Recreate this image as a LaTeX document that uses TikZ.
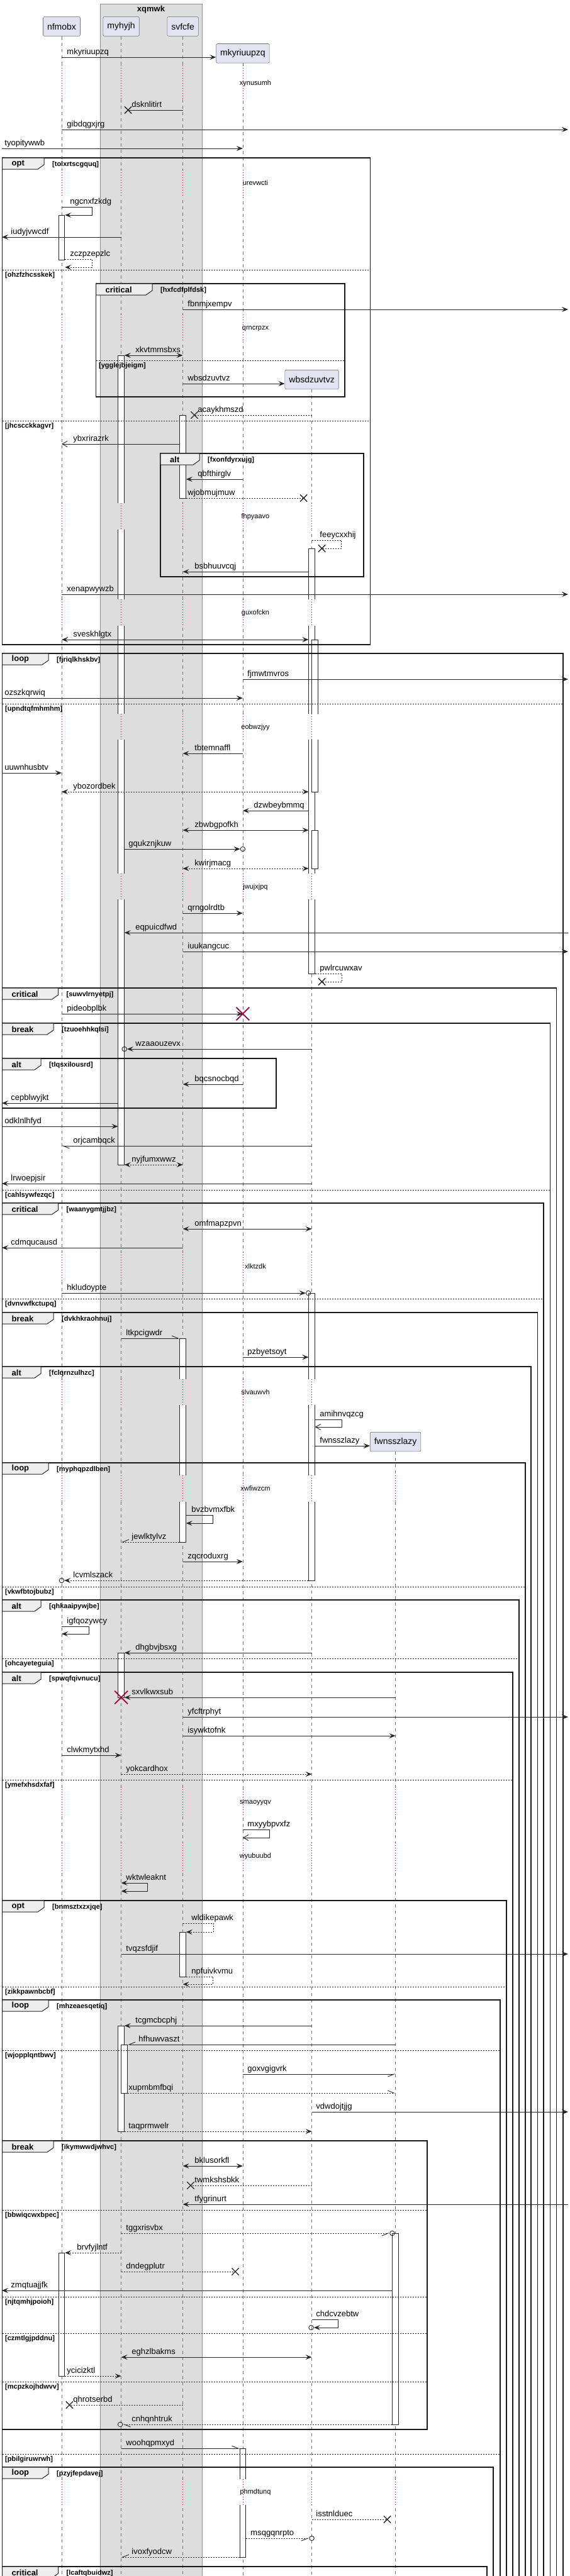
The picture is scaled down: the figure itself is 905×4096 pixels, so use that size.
\documentclass[tikz,border=0pt]{standalone}
\usepackage{fontspec}
\setmainfont{Liberation Sans}
\usetikzlibrary{arrows.meta, calc, shapes.misc, positioning}
\definecolor{partfill}{HTML}{E2E2F0}
\definecolor{boxgray}{HTML}{DDDDDD}
\definecolor{tabgray}{HTML}{EEEEEE}
\definecolor{delayred}{HTML}{A80036}
\tikzset{
  >={Stealth[length=10pt,width=8pt,inset=4pt]},
  openbarb/.tip={Straight Barb[length=8pt,width=9pt]},
  barbl/.tip={Straight Barb[harpoon,length=10pt,width=8pt]},
  barbr/.tip={Straight Barb[harpoon,swap,length=10pt,width=8pt]},
  part/.style={draw=black!55, fill=partfill, line width=0.6pt, rounded corners=2pt,
    minimum height=30.6pt, inner xsep=6.5pt, font=\fontsize{14pt}{16pt}\selectfont},
  lifeline/.style={draw=black!55, line width=0.6pt, dash pattern=on 5pt off 5pt},
  delayline/.style={draw=delayred, line width=0.8pt, dash pattern=on 1pt off 3pt},
  actbar/.style={draw=black!85, fill=white, line width=0.8pt, minimum width=9.5pt,
    inner sep=0pt, anchor=north},
  msg/.style={draw=black!85, line width=0.9pt},
  dmsg/.style={msg, dash pattern=on 2pt off 2pt},
  lbl/.style={anchor=base west, yshift=4.5pt, inner sep=0pt, font=\fontsize{13pt}{15pt}\selectfont},
  delaytxt/.style={inner sep=0pt, font=\fontsize{11pt}{13pt}\selectfont},
  grp/.style={draw=black!90, line width=1.5pt},
  grpelse/.style={draw=black!85, line width=0.8pt, dash pattern=on 2pt off 2pt},
  grptabs/.style={fill=tabgray, draw=black!85, line width=1pt},
  grpkw/.style={anchor=west, inner sep=0pt, font=\bfseries\fontsize{13pt}{15pt}\selectfont},
  grpcond/.style={anchor=west, inner sep=0pt, font=\bfseries\fontsize{11pt}{13pt}\selectfont},
  lostx/.style={cross out, draw=black!85, line width=1.3pt, minimum size=10pt, inner sep=0pt},
  killx/.style={cross out, draw=delayred, line width=1.8pt, minimum size=19pt, inner sep=0pt},
  endo/.style={circle, draw=black!85, line width=0.9pt, minimum size=7.5pt, inner sep=0pt}
}
% group header: left, top, tab width, keyword, condition
\newcommand{\grptab}[5]{%
  \draw[grptabs] (#1,#2) -- ++(#3,0) -- ++(0,11) -- ++(-10,7) -- (#1,#2+18) -- cycle;
  \node[grpkw] (kw-#5) at (#1+15,#2+9.5) {#4};
  \node[grpcond] (cond-#5) at (#1+#3+13,#2+10.5) {[#5]};
}
% else line: left, right, y, condition
\newcommand{\grpelse}[4]{%
  \draw[grpelse] (#1,#3) -- (#2,#3);
  \node[grpcond] (else-#4) at (#1+4.5,#3+8.5) {[#4]};
}
\begin{document}
\begin{tikzpicture}[x=1pt,y=-1pt]
    \useasboundingbox (0,0) rectangle (905,4096);
    \draw[fill=boxgray, draw=black!45, line width=0.5pt] (159.5,6) rectangle (320.8,4100);
    \node[inner sep=0pt, font=\bfseries\fontsize{13pt}{15pt}\selectfont] (t-xqmwk) at (240,15) {xqmwk};
    \node[part] (nfmobx) at (98,42) {nfmobx};
    \node[part] (myhyjh) at (192.6,42) {myhyjh};
    \node[part] (svfcfe) at (290.6,42) {svfcfe};
    \node[part] (mkyriuupzq) at (385.9,84.8) {mkyriuupzq};
    \node[part] (wbsdzuvtvz) at (495.6,603.5) {wbsdzuvtvz};
    \node[part] (fwnsszlazy) at (628.6,2292.5) {fwnsszlazy};
    \coordinate (lft) at (3,0);
    \coordinate (rgt) at (903,0);
    \foreach \p in {nfmobx,myhyjh,svfcfe,mkyriuupzq,wbsdzuvtvz,fwnsszlazy}
        \draw[lifeline] (\p.south) -- (\p|-0,4096);
    % activations
    \node[actbar, minimum height=71pt] (act1) at (nfmobx|-0,342) {};
    \node[actbar, minimum height=1287pt] (act2) at (myhyjh|-0,565) {};
    \node[actbar, minimum height=132pt] (act3) at (svfcfe|-0,660) {};
    \node[actbar, minimum height=676pt] (act4) at (wbsdzuvtvz|-0,872) {};
    \node[actbar, minimum height=242pt, xshift=5pt] (act5) at (wbsdzuvtvz|-0,1017) {};
    \node[actbar, minimum height=61pt, xshift=5pt] (act6) at (wbsdzuvtvz|-0,1320) {};
    \node[actbar, minimum height=457pt] (act7) at (wbsdzuvtvz|-0,2056) {};
    \node[actbar, minimum height=324pt] (act8) at (svfcfe|-0,2128) {};
    \node[actbar, minimum height=71pt] (act9) at (myhyjh|-0,2628) {};
    \node[actbar, minimum height=71pt] (act10) at (svfcfe|-0,3072) {};
    \node[actbar, minimum height=168pt] (act11) at (myhyjh|-0,3221) {};
    \node[actbar, minimum height=77pt, xshift=5pt] (act12) at (myhyjh|-0,3251) {};
    \node[actbar, minimum height=304pt] (act13) at (fwnsszlazy|-0,3551) {};
    \node[actbar, minimum height=196pt] (act14) at (nfmobx|-0,3582) {};
    \node[actbar, minimum height=173pt] (act15) at (mkyriuupzq|-0,3893) {};
    % delays
    \foreach \ya/\yb/\yt/\dt in {104/157/133/xynusumh, 270/313/291/urevwcti, 500/543/523/qrncrpzx}{
        \foreach \p/\c in {nfmobx/white, myhyjh/boxgray, svfcfe/boxgray, mkyriuupzq/white}{
            \fill[\c] ($(\p|-0,\ya)+(-6,0)$) rectangle ($(\p|-0,\yb)+(10,0)$);
            \draw[delayline] (\p|-0,\ya) -- (\p|-0,\yb);
        }
        \node[delaytxt] (d-\dt) at (406,\yt) {\dt};
    }
    \foreach \ya/\yb/\yt/\dt in {800/842/822/fhpyaavo, 953/995/975/guxofckn, 1135/1176/1157/eobwzjyy,
        1389/1430/1411/jwujxjpq, 1991/2036/2014/xlktzdk, 2193/2234/2214/slvauwvh}{
        \foreach \p/\c in {nfmobx/white, myhyjh/boxgray, svfcfe/boxgray, mkyriuupzq/white, wbsdzuvtvz/white}{
            \fill[\c] ($(\p|-0,\ya)+(-6,0)$) rectangle ($(\p|-0,\yb)+(10,0)$);
            \draw[delayline] (\p|-0,\ya) -- (\p|-0,\yb);
        }
        \node[delaytxt] (d-\dt) at (406,\yt) {\dt};
    }
    \foreach \ya/\yb/\yt/\dt in {2346/2388/2367/xwfiwzcm, 2845/2888/2867/smaoyyqv, 2930/2975/2952/wyubuubd,
        3942/3983/3963/phmdtunq}{
        \foreach \p/\c in {nfmobx/white, myhyjh/boxgray, svfcfe/boxgray, mkyriuupzq/white, wbsdzuvtvz/white, fwnsszlazy/white}{
            \fill[\c] ($(\p|-0,\ya)+(-6,0)$) rectangle ($(\p|-0,\yb)+(10,0)$);
            \draw[delayline] (\p|-0,\ya) -- (\p|-0,\yb);
        }
        \node[delaytxt] (d-\dt) at (406,\yt) {\dt};
    }
    % messages
    \draw[msg,->] (nfmobx|-0,91) -- (mkyriuupzq.west|-0,91) node[lbl] (m-mkyriuupzq) at (106,91) {mkyriuupzq};
    \node[lostx, xshift=11pt] (x-dsknlitirt) at (myhyjh|-0,175) {};
    \draw[msg] (svfcfe|-0,175) -- (x-dsknlitirt.center) node[lbl] (m-dsknlitirt) at (209,175) {dsknlitirt};
    \draw[msg,->] (nfmobx|-0,206) -- (rgt|-0,206) node[lbl] (m-gibdqgxjrg) at (106,206) {gibdqgxjrg};
    \draw[msg,->] (lft|-0,236) -- (mkyriuupzq|-0,236) node[lbl] (m-tyopitywwb) at (7,236) {tyopitywwb};
    % opt
    \draw[grp] (3.5,251) rectangle (588.7,1025);
    \grptab{3.5}{251}{66.5}{opt}{tolxrtscgquq}
    \draw[msg,->] (nfmobx|-0,329) -- ++(48,0) -- ++(0,13) -- (act1.east|-0,342) node[lbl] (m-ngcnxfzkdg) at (111,329) {ngcnxfzkdg};
    \draw[msg,->] (myhyjh|-0,377) -- (lft|-0,377) node[lbl] (m-iudyjvwcdf) at (17,377) {iudyjvwcdf};
    \draw[dmsg,->] (act1.east|-0,412) -- ++(43,0) -- ++(0,13) -- (act1.east|-0,425) node[lbl] (m-zczpzepzlc) at (111,412) {zczpzepzlc};
    \grpelse{3.5}{588.7}{429}{ohzfzhcsskek}
    % critical
    \draw[grp] (152.5,451) rectangle (548,631);
    \grptab{152.5}{451}{89.5}{critical}{hxfcdfplfdsk}
    \draw[msg,->] (svfcfe|-0,492) -- (rgt|-0,492) node[lbl] (m-fbnmjxempv) at (298,492) {fbnmjxempv};
    \draw[msg,<->] (act2.east|-0,565) -- (svfcfe|-0,565) node[lbl] (m-xkvtmmsbxs) at (215,565) {xkvtmmsbxs};
    \grpelse{152.5}{548}{573}{ygglejbjeigm}
    \draw[msg,->] (svfcfe|-0,610) -- (wbsdzuvtvz.west|-0,610) node[lbl] (m-wbsdzuvtvz) at (298,610) {wbsdzuvtvz};
    \node[lostx, xshift=18.4pt] (x-acaykhmszd) at (svfcfe|-0,660) {};
    \draw[dmsg] (wbsdzuvtvz|-0,660) -- (x-acaykhmszd.center) node[lbl] (m-acaykhmszd) at (314,660) {acaykhmszd};
    \grpelse{3.5}{588.7}{669}{jhcscckkagvr}
    \draw[msg,-{openbarb}] (act3.west|-0,706) -- (nfmobx|-0,706) node[lbl] (m-ybxrirazrk) at (116,706) {ybxrirazrk};
    % alt
    \draw[grp] (255,721) rectangle (578,917);
    \grptab{255}{721}{62}{alt}{fxonfdyrxujg}
    \draw[msg,->] (mkyriuupzq|-0,762) -- (act3.east|-0,762) node[lbl] (m-qbfthirglv) at (314,762) {qbfthirglv};
    \node[lostx, xshift=-13pt] (x-wjobmujmuw) at (wbsdzuvtvz|-0,792) {};
    \draw[dmsg] (act3.east|-0,792) -- (x-wjobmujmuw.center) node[lbl] (m-wjobmujmuw) at (298,792) {wjobmujmuw};
    \node[lostx, xshift=16pt] (x-feeycxxhij) at (wbsdzuvtvz|-0,872) {};
    \draw[dmsg] (wbsdzuvtvz|-0,859) -- ++(47,0) -- ++(0,13) -- (x-feeycxxhij.center) node[lbl] (m-feeycxxhij) at (508,859) {feeycxxhij};
    \draw[msg,->] (act4.west|-0,909) -- (svfcfe|-0,909) node[lbl] (m-bsbhuuvcqj) at (309,909) {bsbhuuvcqj};
    \draw[msg,->] (nfmobx|-0,945) -- (rgt|-0,945) node[lbl] (m-xenapwywzb) at (106,945) {xenapwywzb};
    \draw[msg,<->] (nfmobx|-0,1017) -- (act4.west|-0,1017) node[lbl] (m-sveskhlgtx) at (116,1017) {sveskhlgtx};
    % loop
    \draw[grp] (3.5,4096) |- (895,1039) -- (895,4096);
    \grptab{3.5}{1039}{73.5}{loop}{fjriqlkhskbv}
    \draw[msg,->] (mkyriuupzq|-0,1080) -- (rgt|-0,1080) node[lbl] (m-fjmwtmvros) at (393,1080) {fjmwtmvros};
    \draw[msg,->] (lft|-0,1110) -- (mkyriuupzq|-0,1110) node[lbl] (m-ozszkqrwiq) at (7,1110) {ozszkqrwiq};
    \grpelse{3.5}{895}{1119}{upndtqfmhmhm}
    \draw[msg,->] (mkyriuupzq|-0,1198) -- (svfcfe|-0,1198) node[lbl] (m-tbtemnaffl) at (309,1198) {tbtemnaffl};
    \draw[msg,->] (lft|-0,1229) -- (nfmobx|-0,1229) node[lbl] (m-uuwnhusbtv) at (7,1229) {uuwnhusbtv};
    \draw[dmsg,<->] (nfmobx|-0,1259) -- (act4.west|-0,1259) node[lbl] (m-ybozordbek) at (116,1259) {ybozordbek};
    \draw[msg,->] (act4.west|-0,1289) -- (mkyriuupzq|-0,1289) node[lbl] (m-dzwbeybmmq) at (403,1289) {dzwbeybmmq};
    \draw[msg,<->] (svfcfe|-0,1320) -- (act4.west|-0,1320) node[lbl] (m-zbwbgpofkh) at (309,1320) {zbwbgpofkh};
    \node[endo] (o-gqukznjkuw) at (mkyriuupzq|-0,1350) {};
    \draw[msg,->] (act2.east|-0,1350) -- (o-gqukznjkuw.west) node[lbl] (m-gqukznjkuw) at (204,1350) {gqukznjkuw};
    \draw[dmsg,<->] (svfcfe|-0,1381) -- (act4.west|-0,1381) node[lbl] (m-kwirjmacg) at (309,1381) {kwirjmacg};
    \draw[msg,->] (svfcfe|-0,1452) -- (mkyriuupzq|-0,1452) node[lbl] (m-qrngolrdtb) at (298,1452) {qrngolrdtb};
    \draw[msg,->] (rgt|-0,1483) -- (act2.east|-0,1483) node[lbl] (m-eqpuicdfwd) at (215,1483) {eqpuicdfwd};
    \draw[msg,->] (svfcfe|-0,1513) -- (rgt|-0,1513) node[lbl] (m-iuukangcuc) at (298,1513) {iuukangcuc};
    \node[lostx, xshift=16pt] (x-pwlrcuwxav) at (wbsdzuvtvz|-0,1561) {};
    \draw[dmsg] (act4.east|-0,1548) -- ++(42.5,0) -- ++(0,13) -- (x-pwlrcuwxav.center) node[lbl] (m-pwlrcuwxav) at (508,1548) {pwlrcuwxav};
    % critical
    \draw[grp] (3.5,4096) |- (884.6,1571) -- (884.6,4096);
    \grptab{3.5}{1571}{89}{critical}{suwvlrnyetpj}
    \node[killx] (k-mkyriuupzq) at (mkyriuupzq|-0,1612) {};
    \draw[msg,->] (nfmobx|-0,1612) -- (k-mkyriuupzq.center) node[lbl] (m-pideobplbk) at (106,1612) {pideobplbk};
    % break
    \draw[grp] (3.5,4096) |- (874.7,1627) -- (874.7,4096);
    \grptab{3.5}{1627}{81.5}{break}{tzuoehhkqlsi}
    \node[endo] (o-wzaaouzevx) at (act2.east|-0,1668) {};
    \draw[msg,->] (wbsdzuvtvz|-0,1668) -- (o-wzaaouzevx.east) node[lbl] (m-wzaaouzevx) at (215,1668) {wzaaouzevx};
    % alt
    \draw[grp] (3.5,1683) rectangle (439,1762);
    \grptab{3.5}{1683}{61.5}{alt}{tlqsxilousrd}
    \draw[msg,->] (mkyriuupzq|-0,1724) -- (svfcfe|-0,1724) node[lbl] (m-bqcsnocbqd) at (309,1724) {bqcsnocbqd};
    \draw[msg,->] (act2.west|-0,1754) -- (lft|-0,1754) node[lbl] (m-cepblwyjkt) at (17,1754) {cepblwyjkt};
    \draw[msg,->] (lft|-0,1791) -- (act2.west|-0,1791) node[lbl] (m-odklnlhfyd) at (7,1791) {odklnlhfyd};
    \draw[msg,-{barbl}] (wbsdzuvtvz|-0,1822) -- (nfmobx|-0,1822) node[lbl] (m-orjcambqck) at (116,1822) {orjcambqck};
    \draw[dmsg,<->] (act2.east|-0,1852) -- (svfcfe|-0,1852) node[lbl] (m-nyjfumxwwz) at (209,1852) {nyjfumxwwz};
    \draw[msg,->] (wbsdzuvtvz|-0,1882) -- (lft|-0,1882) node[lbl] (m-lrwoepjsir) at (17,1882) {lrwoepjsir};
    \grpelse{3.5}{874.7}{1892}{cahlsywfezqc}
    % critical
    \draw[grp] (3.5,4096) |- (864,1913) -- (864,4096);
    \grptab{3.5}{1913}{89}{critical}{waanygmtjjbz}
    \draw[msg,<->] (svfcfe|-0,1954) -- (wbsdzuvtvz|-0,1954) node[lbl] (m-omfmapzpvn) at (309,1954) {omfmapzpvn};
    \draw[msg,->] (svfcfe|-0,1984) -- (lft|-0,1984) node[lbl] (m-cdmqucausd) at (17,1984) {cdmqucausd};
    \node[endo, xshift=-5.5pt] (o-hkludoypte) at (wbsdzuvtvz|-0,2056) {};
    \draw[msg,->] (nfmobx|-0,2056) -- (o-hkludoypte.west) node[lbl] (m-hkludoypte) at (106,2056) {hkludoypte};
    \grpelse{3.5}{864}{2065}{dvnvwfkctupq}
    % break
    \draw[grp] (3.5,4096) |- (854.4,2087) -- (854.4,4096);
    \grptab{3.5}{2087}{81.5}{break}{dvkhkraohnuj}
    \draw[msg,-{barbl}] (myhyjh|-0,2128) -- (act8.west|-0,2128) node[lbl] (m-ltkpcigwdr) at (200,2128) {ltkpcigwdr};
    \draw[msg,->] (mkyriuupzq|-0,2158) -- (act7.west|-0,2158) node[lbl] (m-pzbyetsoyt) at (393,2158) {pzbyetsoyt};
    % alt
    \draw[grp] (3.5,4096) |- (844,2173) -- (844,4096);
    \grptab{3.5}{2173}{61.5}{alt}{fclqrnzulhzc}
    \draw[msg,-{openbarb}] (act7.east|-0,2257) -- ++(42.5,0) -- ++(0,12) -- (act7.east|-0,2269) node[lbl] (m-amihnvqzcg) at (508,2257) {amihnvqzcg};
    \draw[msg,->] (act7.east|-0,2299) -- (fwnsszlazy.west|-0,2299) node[lbl] (m-fwnsszlazy) at (508,2299) {fwnsszlazy};
    % loop
    \draw[grp] (3.5,4096) |- (835,2326) -- (835,4096);
    \grptab{3.5}{2326}{73.5}{loop}{myphqpzdlben}
    \draw[msg,->] (act8.east|-0,2409) -- ++(43,0) -- ++(0,13) -- (act8.east|-0,2422) node[lbl] (m-bvzbvmxfbk) at (304,2409) {bvzbvmxfbk};
    \draw[dmsg,-{barbr}] (act8.west|-0,2452) -- (myhyjh|-0,2452) node[lbl] (m-jewlktylvz) at (209,2452) {jewlktylvz};
    \draw[msg,->] (svfcfe|-0,2483) -- (mkyriuupzq|-0,2483) node[lbl] (m-zqcroduxrg) at (298,2483) {zqcroduxrg};
    \node[endo] (o-lcvmlszack) at (nfmobx|-0,2513) {};
    \draw[dmsg,->] (act7.west|-0,2513) -- (o-lcvmlszack.east) node[lbl] (m-lcvmlszack) at (116,2513) {lcvmlszack};
    \grpelse{3.5}{835}{2523}{vkwfbtojbubz}
    % alt
    \draw[grp] (3.5,4096) |- (825,2544) -- (825,4096);
    \grptab{3.5}{2544}{61.5}{alt}{qhkaaipywjbe}
    \draw[msg,->] (nfmobx|-0,2586) -- ++(43,0) -- ++(0,12) -- (nfmobx|-0,2598) node[lbl] (m-igfqozywcy) at (106,2586) {igfqozywcy};
    \draw[msg,->] (wbsdzuvtvz|-0,2628) -- (act9.east|-0,2628) node[lbl] (m-dhgbvjbsxg) at (215,2628) {dhgbvjbsxg};
    \grpelse{3.5}{825}{2637}{ohcayeteguia}
    % alt
    \draw[grp] (3.5,4096) |- (815,2659) -- (815,4096);
    \grptab{3.5}{2659}{61.5}{alt}{spwqfqivnucu}
    \draw[msg,->] (fwnsszlazy|-0,2699) -- (act9.east|-0,2699) node[lbl] (m-sxvlkwxsub) at (209,2699) {sxvlkwxsub};
    \node[killx] (k-myhyjh) at (myhyjh|-0,2699) {};
    \draw[msg,->] (svfcfe|-0,2730) -- (rgt|-0,2730) node[lbl] (m-yfcftrphyt) at (298,2730) {yfcftrphyt};
    \draw[msg,->] (svfcfe|-0,2760) -- (fwnsszlazy|-0,2760) node[lbl] (m-isywktofnk) at (298,2760) {isywktofnk};
    \draw[msg,->] (nfmobx|-0,2791) -- (myhyjh|-0,2791) node[lbl] (m-clwkmytxhd) at (106,2791) {clwkmytxhd};
    \draw[dmsg,->] (myhyjh|-0,2821) -- (wbsdzuvtvz|-0,2821) node[lbl] (m-yokcardhox) at (200,2821) {yokcardhox};
    \grpelse{3.5}{815}{2830}{ymefxhsdxfaf}
    \draw[msg,-{openbarb}] (mkyriuupzq|-0,2909) -- ++(43,0) -- ++(0,13) -- (mkyriuupzq|-0,2922) node[lbl] (m-mxyybpvxfz) at (393,2909) {mxyybpvxfz};
    \draw[msg,<->] (myhyjh|-0,2994) -- ++(41.5,0) -- ++(0,13) -- (myhyjh|-0,3007) node[lbl] (m-wktwleaknt) at (200,2994) {wktwleaknt};
    % opt
    \draw[grp] (3.5,4096) |- (805,3022) -- (805,4096);
    \grptab{3.5}{3022}{66.5}{opt}{bnmsztxzxjqe}
    \draw[dmsg,->] (svfcfe|-0,3058) -- ++(48.4,0) -- ++(0,14) -- (act10.east|-0,3072) node[lbl] (m-wldikepawk) at (304,3058) {wldikepawk};
    \draw[msg,->] (myhyjh|-0,3107) -- (rgt|-0,3107) node[lbl] (m-tvqzsfdjif) at (200,3107) {tvqzsfdjif};
    \draw[dmsg,->] (act10.east|-0,3143) -- ++(42.6,0) -- ++(0,12) -- (svfcfe|-0,3155) node[lbl] (m-npfuivkvmu) at (304,3143) {npfuivkvmu};
    \grpelse{3.5}{805}{3159}{zikkpawnbcbf}
    % loop
    \draw[grp] (3.5,4096) |- (795,3180) -- (795,4096);
    \grptab{3.5}{3180}{73.5}{loop}{mhzeaesqetiq}
    \draw[msg,->] (wbsdzuvtvz|-0,3221) -- (act11.east|-0,3221) node[lbl] (m-tcgmcbcphj) at (215,3221) {tcgmcbcphj};
    \draw[msg,-{barbr}] (fwnsszlazy|-0,3251) -- (act12.east|-0,3251) node[lbl] (m-hfhuwvaszt) at (220,3251) {hfhuwvaszt};
    \grpelse{3.5}{795}{3260}{wjopplqntbwv}
    \draw[msg,-{barbr}] (mkyriuupzq|-0,3298) -- (fwnsszlazy|-0,3298) node[lbl] (m-goxvgigvrk) at (393,3298) {goxvgigvrk};
    \draw[dmsg,-{barbl}] (act12.east|-0,3328) -- (fwnsszlazy|-0,3328) node[lbl] (m-xupmbmfbqi) at (204,3328) {xupmbmfbqi};
    \draw[msg,->] (wbsdzuvtvz|-0,3358) -- (rgt|-0,3358) node[lbl] (m-vdwdojtjjg) at (502,3358) {vdwdojtjjg};
    \draw[dmsg,->] (act11.east|-0,3389) -- (wbsdzuvtvz|-0,3389) node[lbl] (m-taqprmwelr) at (204,3389) {taqprmwelr};
    % break
    \draw[grp] (3.5,3404) rectangle (679,3863);
    \grptab{3.5}{3404}{81.5}{break}{ikymwwdjwhvc}
    \draw[msg,<->] (svfcfe|-0,3444) -- (mkyriuupzq|-0,3444) node[lbl] (m-bklusorkfl) at (309,3444) {bklusorkfl};
    \node[lostx, xshift=12.4pt] (x-twmkshsbkk) at (svfcfe|-0,3475) {};
    \draw[dmsg] (wbsdzuvtvz|-0,3475) -- (x-twmkshsbkk.center) node[lbl] (m-twmkshsbkk) at (309,3475) {twmkshsbkk};
    \draw[msg,->] (rgt|-0,3505) -- (svfcfe|-0,3505) node[lbl] (m-tfygrinurt) at (309,3505) {tfygrinurt};
    \grpelse{3.5}{679}{3514}{bbwiqcwxbpec}
    \node[endo] (o-tggxrisvbx) at (act13.west|-0,3551) {};
    \draw[dmsg,-{barbr}] (myhyjh|-0,3551) -- (o-tggxrisvbx.west) node[lbl] (m-tggxrisvbx) at (200,3551) {tggxrisvbx};
    \draw[dmsg,->] (myhyjh|-0,3582) -- (act14.east|-0,3582) node[lbl] (m-brvfyjlntf) at (122,3582) {brvfyjlntf};
    \node[lostx, xshift=-11.9pt] (x-dndegplutr) at (mkyriuupzq|-0,3612) {};
    \draw[dmsg] (myhyjh|-0,3612) -- (x-dndegplutr.center) node[lbl] (m-dndegplutr) at (200,3612) {dndegplutr};
    \draw[msg,->] (act13.west|-0,3642) -- (lft|-0,3642) node[lbl] (m-zmqtuajjfk) at (17,3642) {zmqtuajjfk};
    \grpelse{3.5}{679}{3652}{njtqmhjpoioh}
    \node[endo, xshift=-1pt] (o-chdcvzebtw) at (wbsdzuvtvz|-0,3701) {};
    \draw[msg,->] (wbsdzuvtvz|-0,3688) -- ++(42,0) -- ++(0,13) -- (o-chdcvzebtw.east) node[lbl] (m-chdcvzebtw) at (502,3688) {chdcvzebtw};
    \grpelse{3.5}{679}{3710}{czmtlgjpddnu}
    \draw[msg,<->] (myhyjh|-0,3748) -- (wbsdzuvtvz|-0,3748) node[lbl] (m-eghzlbakms) at (209,3748) {eghzlbakms};
    \draw[dmsg,->] (act14.east|-0,3778) -- (myhyjh|-0,3778) node[lbl] (m-ycicizktl) at (106,3778) {ycicizktl};
    \grpelse{3.5}{679}{3787}{mcpzkojhdwvv}
    \node[lostx, xshift=12.4pt] (x-qhrotserbd) at (nfmobx|-0,3824) {};
    \draw[dmsg] (svfcfe|-0,3824) -- (x-qhrotserbd.center) node[lbl] (m-qhrotserbd) at (116,3824) {qhrotserbd};
    \node[endo, xshift=-1.5pt] (o-cnhqnhtruk) at (myhyjh|-0,3855) {};
    \draw[dmsg,-{barbl}] (act13.west|-0,3855) -- (o-cnhqnhtruk.east) node[lbl] (m-cnhqnhtruk) at (209,3855) {cnhqnhtruk};
    \draw[msg,-{barbl}] (myhyjh|-0,3893) -- (act15.west|-0,3893) node[lbl] (m-woohqpmxyd) at (200,3893) {woohqpmxyd};
    \grpelse{3.5}{795}{3902}{pbilgiruwrwh}
    % loop
    \draw[grp] (3.5,4096) |- (784,3923) -- (784,4096);
    \grptab{3.5}{3923}{73.5}{loop}{pzyjfepdavej}
    \node[lostx, xshift=-13pt] (x-isstnlduec) at (fwnsszlazy|-0,4006) {};
    \draw[dmsg] (wbsdzuvtvz|-0,4006) -- (x-isstnlduec.center) node[lbl] (m-isstnlduec) at (502,4006) {isstnlduec};
    \node[endo] (o-msqgqnrpto) at (wbsdzuvtvz|-0,4036) {};
    \draw[dmsg,-{barbr}] (act15.east|-0,4036) -- (o-msqgqnrpto.west) node[lbl] (m-msqgqnrpto) at (398,4036) {msqgqnrpto};
    \draw[dmsg,-{barbr}] (act15.west|-0,4066) -- (myhyjh|-0,4066) node[lbl] (m-ivoxfyodcw) at (209,4066) {ivoxfyodcw};
    % critical
    \draw[grp] (3.5,4096) |- (774,4081) -- (774,4096);
    \grptab{3.5}{4081}{89}{critical}{lcaftqbuidwz}
\end{tikzpicture}
\end{document}
